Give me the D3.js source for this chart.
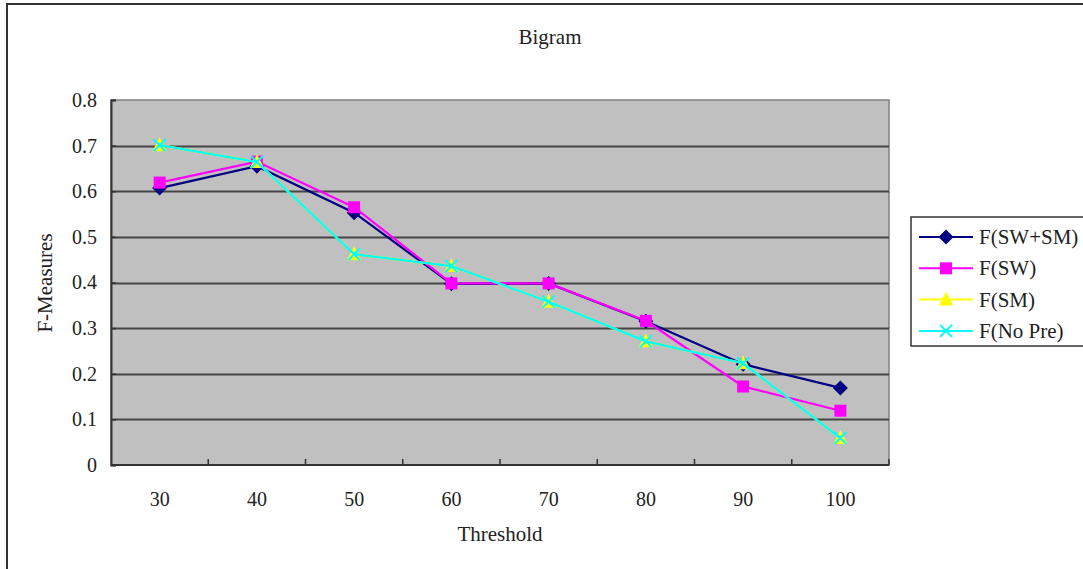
<!DOCTYPE html>
<html>
<head>
<meta charset="utf-8">
<script src="https://cdn.jsdelivr.net/npm/d3@7"></script>
<style>
  html, body { margin: 0; padding: 0; background: #fff; }
  svg { display: block; }
  text { font-family: "Liberation Serif", "DejaVu Serif", serif; fill: #222; }
</style>
</head>
<body>
<svg id="chart" width="1083" height="569"></svg>
<script>
// Threshold categories and F-measure series
const thresholds = ["30", "40", "50", "60", "70", "80", "90", "100"];
const swsm  = [0.607, 0.655, 0.553, 0.397, 0.398, 0.315, 0.221, 0.169];
const sw    = [0.619, 0.665, 0.565, 0.398, 0.398, 0.316, 0.172, 0.119];
const sm    = [0.701, 0.664, 0.462, 0.436, 0.358, 0.271, 0.223, 0.059];
const nopre = [0.701, 0.664, 0.462, 0.436, 0.358, 0.271, 0.223, 0.059];
const yTicks = [0, 0.1, 0.2, 0.3, 0.4, 0.5, 0.6, 0.7, 0.8];
const yTickLabels = ["0", "0.1", "0.2", "0.3", "0.4", "0.5", "0.6", "0.7", "0.8"];

const series = [
  { name: "F(SW+SM)", values: swsm,  color: "#000080", marker: "diamond" },
  { name: "F(SW)",    values: sw,    color: "#FF00FF", marker: "square" },
  { name: "F(SM)",    values: sm,    color: "#FFFF00", marker: "triangle" },
  { name: "F(No Pre)", values: nopre, color: "#00FFFF", marker: "cross" }
];

const svg = d3.select("#chart");
const plot = { left: 111, top: 100, right: 889, bottom: 465 };
const FS = 20;

// Outer chart frame
svg.append("rect")
  .attr("x", 7).attr("y", 4).attr("width", 1100).attr("height", 600)
  .attr("fill", "#fff").attr("stroke", "#333").attr("stroke-width", 2);

const x = d3.scaleBand().domain(thresholds).range([plot.left, plot.right]);
const y = d3.scaleLinear().domain([0, 0.8]).range([plot.bottom, plot.top]);

// Plot background
svg.append("rect")
  .attr("x", plot.left).attr("y", plot.top)
  .attr("width", plot.right - plot.left).attr("height", plot.bottom - plot.top)
  .attr("fill", "#C0C0C0").attr("stroke", "#808080").attr("stroke-width", 1.5);

// Horizontal gridlines
svg.append("g").selectAll("line")
  .data(yTicks.filter(t => t > 0 && t < 0.8))
  .join("line")
  .attr("x1", plot.left).attr("x2", plot.right)
  .attr("y1", d => Math.round(y(d)) + 0.5).attr("y2", d => Math.round(y(d)) + 0.5)
  .attr("stroke", "#454545").attr("stroke-width", 2);

// Y axis with inward ticks
const yAxis = d3.axisLeft(y).tickValues(yTicks)
  .tickFormat((d, i) => yTickLabels[i]).tickSize(-5).tickPadding(14);
const gy = svg.append("g").attr("transform", `translate(${plot.left},0)`).call(yAxis);
gy.select(".domain").attr("stroke", "#333").attr("stroke-width", 2);
gy.selectAll(".tick line").attr("stroke", "#333").attr("stroke-width", 1.5);
gy.selectAll(".tick text").attr("font-size", FS).attr("font-family", "Liberation Serif").attr("fill", "#222");

// X axis: ticks at category boundaries, labels at centres
const gx = svg.append("g").attr("transform", `translate(0,${plot.bottom})`);
gx.append("line")
  .attr("x1", plot.left).attr("x2", plot.right).attr("y1", 0).attr("y2", 0)
  .attr("stroke", "#333").attr("stroke-width", 2);
gx.selectAll(".tb").data(thresholds)
  .join("line").attr("class", "tb")
  .attr("x1", d => x(d) + x.bandwidth())
  .attr("x2", d => x(d) + x.bandwidth())
  .attr("y1", 0).attr("y2", -6)
  .attr("stroke", "#333").attr("stroke-width", 1.5);
gx.selectAll(".tl").data(thresholds).join("text").attr("class", "tl")
  .attr("x", d => x(d) + x.bandwidth() / 2).attr("y", 41)
  .attr("text-anchor", "middle").attr("font-size", FS).text(d => d);

const cx = (d, i) => x(thresholds[i]) + x.bandwidth() / 2;

function drawMarker(g, type, color, size) {
  const s = size;
  if (type === "diamond") {
    g.append("path").attr("d", `M0,${-s / 1.6}L${s / 1.6},0L0,${s / 1.6}L${-s / 1.6},0Z`)
      .attr("fill", color);
  } else if (type === "square") {
    g.append("rect").attr("x", -s / 2).attr("y", -s / 2).attr("width", s).attr("height", s)
      .attr("fill", color);
  } else if (type === "triangle") {
    g.append("path").attr("d", `M0,${-s * 0.65}L${s * 0.6},${s * 0.5}L${-s * 0.6},${s * 0.5}Z`)
      .attr("fill", color);
  } else if (type === "cross") {
    const h = s / 2;
    g.append("path").attr("d", `M${-h},${-h}L${h},${h}M${-h},${h}L${h},${-h}`)
      .attr("stroke", color).attr("stroke-width", 2).attr("fill", "none");
  }
}

const line = d3.line().x((d, i) => cx(d, i)).y(d => y(d));

series.forEach(s => {
  const g = svg.append("g");
  g.append("path").datum(s.values).attr("d", line)
    .attr("fill", "none").attr("stroke", s.color).attr("stroke-width", 2.2);
  s.values.forEach((v, i) => {
    const m = g.append("g").attr("transform", `translate(${cx(v, i)},${y(v)})`);
    drawMarker(m, s.marker, s.color, 12);
  });
});

// Titles
svg.append("text").attr("x", 550).attr("y", 44).attr("text-anchor", "middle")
  .attr("font-size", FS + 1).text("Bigram");
svg.append("text").attr("x", 500).attr("y", 541).attr("text-anchor", "middle")
  .attr("font-size", FS + 1).text("Threshold");
svg.append("text").attr("transform", "translate(52,283) rotate(-90)")
  .attr("text-anchor", "middle").attr("font-size", FS + 1).text("F-Measures");

// Legend
const lg = svg.append("g");
lg.append("rect").attr("x", 911).attr("y", 217).attr("width", 200).attr("height", 129)
  .attr("fill", "#fff").attr("stroke", "#333").attr("stroke-width", 1.5);
series.forEach((s, i) => {
  const ly = 237 + i * 31.3;
  lg.append("line").attr("x1", 919).attr("x2", 973).attr("y1", ly).attr("y2", ly)
    .attr("stroke", s.color).attr("stroke-width", 2);
  const m = lg.append("g").attr("transform", `translate(946,${ly})`);
  drawMarker(m, s.marker, s.color, 12);
  lg.append("text").attr("x", 979).attr("y", ly + 7).attr("font-size", FS + 1).text(s.name);
});
</script>
</body>
</html>
